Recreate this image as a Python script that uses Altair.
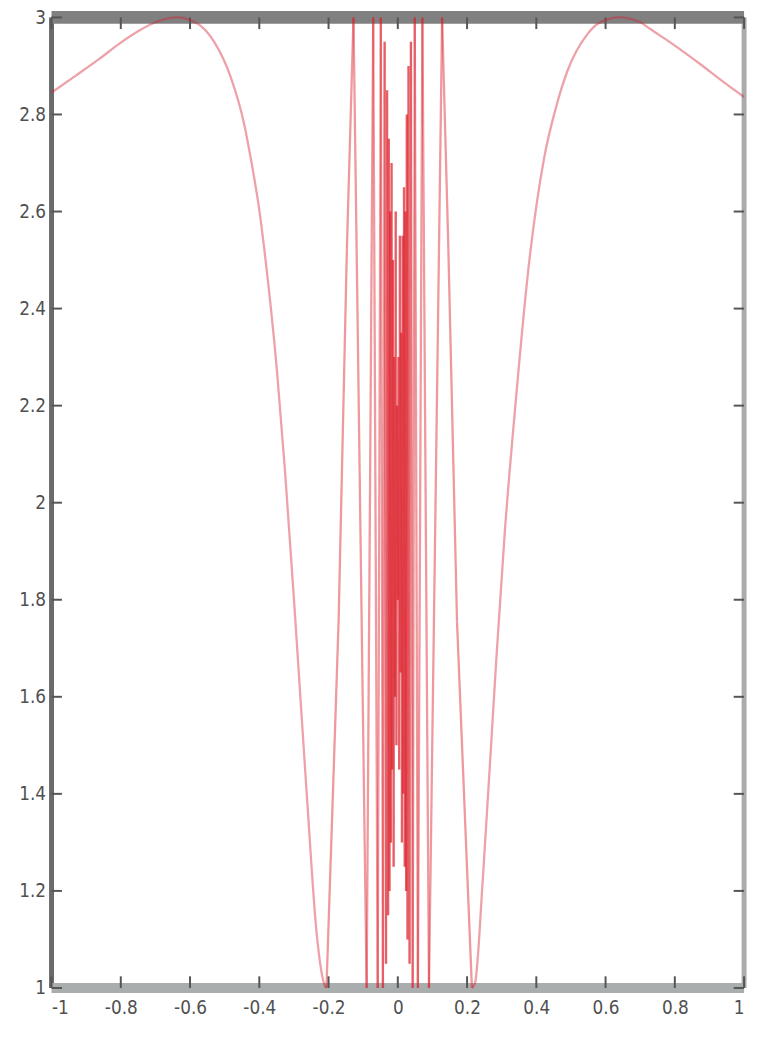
import altair as alt
import pandas as pd

# ---- data ----
x_ticks = [-1, -0.8, -0.6, -0.4, -0.2, 0, 0.2, 0.4, 0.6, 0.8, 1]
y_ticks = [1, 1.2, 1.4, 1.6, 1.8, 2, 2.2, 2.4, 2.6, 2.8, 3]

# left outer arch
left_x = [-1.000, -0.930, -0.863, -0.800, -0.749, -0.700, -0.640, -0.580, -0.529, -0.483,
          -0.443, -0.426, -0.397, -0.386, -0.349, -0.326, -0.297, -0.263, -0.234, -0.211,
          -0.206]
left_y = [2.845, 2.880, 2.914, 2.948, 2.972, 2.990, 3.000, 2.988, 2.948, 2.878,
          2.778, 2.715, 2.588, 2.525, 2.272, 2.068, 1.770, 1.400, 1.110, 1.005,
          1.000]

# dense central oscillation
center_x = [-0.206, -0.171, -0.147, -0.128, -0.090, -0.071, -0.058, -0.049, -0.043, -0.038,
            -0.034, -0.031, -0.028, -0.026, -0.024, -0.022, -0.020, -0.018, -0.016, -0.014,
            -0.012, -0.010, -0.008, -0.006, -0.004, -0.002, 0.000, 0.002, 0.004, 0.006,
            0.008, 0.010, 0.012, 0.014, 0.016, 0.018, 0.020, 0.022, 0.024, 0.026,
            0.028, 0.031, 0.034, 0.038, 0.043, 0.049, 0.058, 0.071, 0.090, 0.128,
            0.146, 0.171, 0.214]
center_y = [1.000, 1.755, 2.524, 3.000, 1.000, 3.000, 1.000, 3.000, 1.000, 2.950,
            1.050, 2.850, 1.150, 2.750, 1.200, 2.600, 1.300, 2.700, 1.450, 2.500,
            1.250, 2.300, 1.600, 2.600, 1.500, 2.200, 1.800, 2.300, 1.450, 2.550,
            1.650, 2.350, 1.300, 2.550, 1.400, 2.650, 1.250, 2.600, 1.200, 2.800,
            1.100, 2.900, 1.050, 2.950, 1.000, 3.000, 1.000, 3.000, 1.000, 3.000,
            2.524, 1.755, 1.000]

# right outer arch
right_x = [0.214, 0.223, 0.246, 0.283, 0.309, 0.337, 0.380, 0.423, 0.457, 0.489,
           0.546, 0.580, 0.640, 0.700, 0.729, 0.794, 0.871, 0.946, 1.000]
right_y = [1.000, 1.010, 1.230, 1.660, 1.940, 2.180, 2.500, 2.712, 2.815, 2.888,
           2.964, 2.988, 3.000, 2.990, 2.976, 2.945, 2.905, 2.864, 2.836]

# ---- tables built from the arrays ----
arches = pd.DataFrame({
    "x": left_x + right_x,
    "y": left_y + right_y,
    "side": ["left"] * len(left_x) + ["right"] * len(right_x),
})
seg = pd.DataFrame({
    "x": center_x[:-1], "y": center_y[:-1],
    "x2": center_x[1:], "y2": center_y[1:],
})

W, H = 700, 981
TLX = 0.03   # inward tick length in x units
TLY = 0.024  # inward tick length in y units

xs = alt.Scale(domain=[-1, 1], nice=False, zero=False)
ys = alt.Scale(domain=[1, 3], nice=False, zero=False)

label_font = "Liberation Sans Narrow, DejaVu Sans Condensed, Liberation Sans, sans-serif"
label_color = "#505050"

xaxis = alt.Axis(values=x_ticks, labelExpr="'' + datum.value", domain=False, ticks=False,
                 grid=False, title=None, labelFont=label_font, labelFontSize=19,
                 labelColor=label_color, labelPadding=11)
yaxis = alt.Axis(values=y_ticks, labelExpr="'' + datum.value", domain=False, ticks=False,
                 grid=False, title=None, labelFont=label_font, labelFontSize=19,
                 labelColor=label_color, labelPadding=6)

# frame pieces
top_df = pd.DataFrame({"x": [x_ticks[0]], "x2": [x_ticks[-1]], "y": [y_ticks[-1]]})
bot_df = pd.DataFrame({"x": [x_ticks[0]], "x2": [x_ticks[-1]], "y": [y_ticks[0]]})
left_df = pd.DataFrame({"x": [x_ticks[0]], "y": [y_ticks[0]], "y2": [y_ticks[-1]]})
right_df = pd.DataFrame({"x": [x_ticks[-1]], "y": [y_ticks[0]], "y2": [y_ticks[-1]]})

left_axis = alt.Chart(left_df).mark_rule(color="#6a6a6a", strokeWidth=5).encode(
    x=alt.X("x:Q", scale=xs, axis=xaxis), y=alt.Y("y:Q", scale=ys, axis=yaxis), y2="y2:Q")
right_axis = alt.Chart(right_df).mark_rule(color="#ababab", strokeWidth=5).encode(
    x=alt.X("x:Q", scale=xs), y=alt.Y("y:Q", scale=ys), y2="y2:Q")
top_band = alt.Chart(top_df).mark_rule(color="#808080", strokeWidth=13).encode(
    x=alt.X("x:Q", scale=xs), x2="x2:Q", y=alt.Y("y:Q", scale=ys))
bot_band = alt.Chart(bot_df).mark_rule(color="#a9adad", strokeWidth=10).encode(
    x=alt.X("x:Q", scale=xs), x2="x2:Q", y=alt.Y("y:Q", scale=ys))

# inward ticks
n = len(x_ticks)
m = len(y_ticks)
bt = pd.DataFrame({"x": x_ticks, "y": [y_ticks[0]] * n, "y2": [y_ticks[0] + TLY] * n})
tt = pd.DataFrame({"x": x_ticks, "y": [y_ticks[-1]] * n, "y2": [y_ticks[-1] - TLY] * n})
lt = pd.DataFrame({"y": y_ticks, "x": [x_ticks[0]] * m, "x2": [x_ticks[0] + TLX] * m})
rt = pd.DataFrame({"y": y_ticks, "x": [x_ticks[-1]] * m, "x2": [x_ticks[-1] - TLX] * m})

tick_style = dict(color="#555555", strokeWidth=2)
ticks_v = alt.layer(
    alt.Chart(bt).mark_rule(**tick_style).encode(
        x=alt.X("x:Q", scale=xs), y=alt.Y("y:Q", scale=ys), y2="y2:Q"),
    alt.Chart(tt).mark_rule(**tick_style).encode(
        x=alt.X("x:Q", scale=xs), y=alt.Y("y:Q", scale=ys), y2="y2:Q"),
)
ticks_h = alt.layer(
    alt.Chart(lt).mark_rule(**tick_style).encode(
        x=alt.X("x:Q", scale=xs), x2="x2:Q", y=alt.Y("y:Q", scale=ys)),
    alt.Chart(rt).mark_rule(**tick_style).encode(
        x=alt.X("x:Q", scale=xs), x2="x2:Q", y=alt.Y("y:Q", scale=ys)),
)

line_color = "#d42030"
arch_lines = alt.Chart(arches).mark_line(
    color=line_color, opacity=0.42, strokeWidth=2.3, interpolate="monotone"
).encode(
    x=alt.X("x:Q", scale=xs), y=alt.Y("y:Q", scale=ys), detail="side:N",
)

curves = alt.Chart(seg).mark_rule(color="#dc1a26", opacity=0.45, strokeWidth=2.3).encode(
    x=alt.X("x:Q", scale=xs), x2="x2:Q",
    y=alt.Y("y:Q", scale=ys), y2="y2:Q",
)

chart = alt.layer(
    left_axis, right_axis, top_band, bot_band, ticks_v, ticks_h, arch_lines, curves
).properties(
    width=W, height=H,
    padding={"left": 44, "top": 4, "right": 7, "bottom": 40},
    autosize=alt.AutoSizeParams(type="none"),
    background="white",
).configure_view(stroke=None)

chart.save("out.html", embed_options={"renderer": "svg", "actions": False})
